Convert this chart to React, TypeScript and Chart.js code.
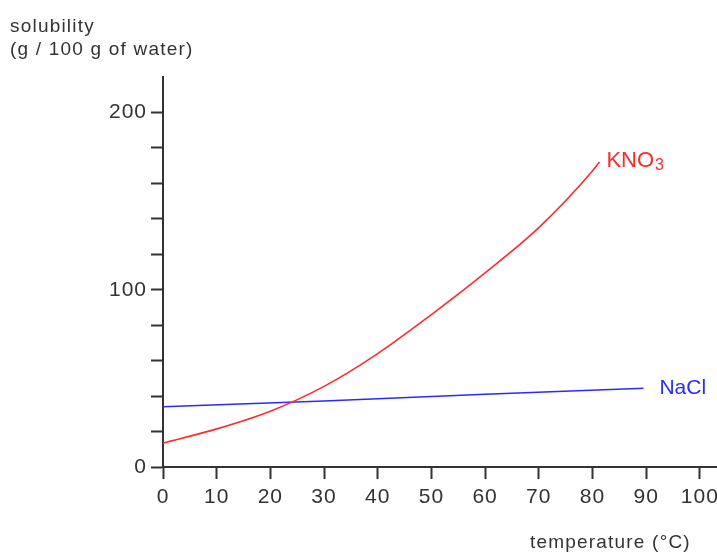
import React, { useEffect, useRef } from "react";
import { Chart, registerables } from "chart.js";

Chart.register(...registerables);

// Data
const kno3Temps = [0, 10, 20, 30, 40, 50, 60, 70, 80, 81.3];
const kno3Values = [13.5, 21.5, 31.5, 45.5, 64, 86, 109.5, 135, 167, 172];
const naclTemps = [0, 30, 60, 89.5];
const naclValues = [34, 37.2, 41, 44.4];
const xTickValues = [0, 10, 20, 30, 40, 50, 60, 70, 80, 90, 100];
const yLabelledTicks = [0, 100, 200];

const seriesNames = { kno3: "KNO", kno3Sub: "3", nacl: "NaCl" };
const axisTitles = {
  y1: "solubility",
  y2: "(g / 100 g of water)",
  x: "temperature (°C)",
};

const FONT = '"Liberation Sans", Arial, Helvetica, sans-serif';
const AXIS = "#333333";
const RED = "#ff2a2a";
const BLUE = "#2a2aff";

export default function App() {
  const ref = useRef<HTMLCanvasElement | null>(null);

  useEffect(() => {
    const canvas = ref.current;
    if (!canvas) return;

    const labelPlugin = {
      id: "labels",
      beforeDraw(chart: any) {
        chart.ctx.letterSpacing = "1px";
      },
      afterDatasetsDraw(chart: any) {
        const ctx = chart.ctx;
        const xs = chart.scales.x;
        const ys = chart.scales.y;
        ctx.save();
        ctx.letterSpacing = "0px";
        ctx.textAlign = "left";
        ctx.textBaseline = "alphabetic";
        // KNO3 label
        const kx = xs.getPixelForValue(kno3Temps[kno3Temps.length - 1]);
        const ky = ys.getPixelForValue(kno3Values[kno3Values.length - 1]);
        ctx.fillStyle = RED;
        ctx.font = `22px ${FONT}`;
        ctx.fillText(seriesNames.kno3, kx + 7, ky + 5);
        const w = ctx.measureText(seriesNames.kno3).width;
        ctx.font = `16px ${FONT}`;
        ctx.fillText(seriesNames.kno3Sub, kx + 8 + w, ky + 8);
        // NaCl label
        const nx = xs.getPixelForValue(naclTemps[naclTemps.length - 1]);
        const ny = ys.getPixelForValue(naclValues[naclValues.length - 1]);
        ctx.fillStyle = BLUE;
        ctx.font = `21px ${FONT}`;
        ctx.fillText(seriesNames.nacl, nx + 16, ny + 6);
        // axis titles
        ctx.fillStyle = AXIS;
        ctx.font = `19px ${FONT}`;
        ctx.letterSpacing = "1.2px";
        ctx.fillText(axisTitles.y1, 10, 32);
        ctx.fillText(axisTitles.y2, 10, 55);
        ctx.fillText(axisTitles.x, 530, 548);
        ctx.restore();
      },
    };

    const chart = new Chart(canvas, {
      type: "scatter",
      data: {
        datasets: [
          {
            label: "KNO3",
            data: kno3Temps.map((t, i) => ({ x: t, y: kno3Values[i] })),
            showLine: true,
            borderColor: RED,
            backgroundColor: RED,
            borderWidth: 1.6,
            pointRadius: 0,
            cubicInterpolationMode: "monotone",
          },
          {
            label: "NaCl",
            data: naclTemps.map((t, i) => ({ x: t, y: naclValues[i] })),
            showLine: true,
            borderColor: BLUE,
            backgroundColor: BLUE,
            borderWidth: 1.6,
            pointRadius: 0,
          },
        ],
      },
      options: {
        animation: false,
        responsive: false,
        layout: { padding: { top: 77, left: 0, right: 0, bottom: 0 } },
        plugins: {
          legend: { display: false },
          tooltip: { enabled: false },
        },
        scales: {
          x: {
            type: "linear",
            min: 0,
            max: 103.2,
            afterFit(scale: any) {
              scale.height = 85;
              scale.paddingLeft = 0;
              scale.paddingRight = 0;
            },
            afterBuildTicks(scale: any) {
              scale.ticks = xTickValues.map((v) => ({ value: v }));
            },
            border: { display: true, color: AXIS, width: 2 },
            grid: {
              drawOnChartArea: false,
              drawTicks: true,
              tickLength: 12,
              tickWidth: 2,
              tickColor: AXIS,
            },
            ticks: {
              padding: 6,
              color: AXIS,
              font: { family: FONT, size: 21 },
              maxRotation: 0,
              autoSkip: false,
              callback: (v: any) => String(v),
            },
          },
          y: {
            type: "linear",
            min: 0,
            max: 220,
            afterFit(scale: any) {
              scale.width = 163;
              scale.paddingTop = 0;
              scale.paddingBottom = 0;
            },
            border: { display: true, color: AXIS, width: 2 },
            grid: {
              drawOnChartArea: false,
              drawTicks: true,
              tickLength: 12,
              tickWidth: 2,
              tickColor: (c: any) =>
                c.tick && c.tick.value === 220 ? "rgba(0,0,0,0)" : AXIS,
            },
            ticks: {
              stepSize: 20,
              padding: 4,
              color: AXIS,
              font: { family: FONT, size: 21 },
              autoSkip: false,
              callback: (v: any) => (yLabelledTicks.includes(v) ? String(v) : ""),
            },
          },
        },
      },
      plugins: [labelPlugin],
    });

    return () => chart.destroy();
  }, []);

  return (
    <div style={{ position: "absolute", left: 0, top: 0, width: 717, height: 552, background: "#fff" }}>
      <canvas ref={ref} width={717} height={552} style={{ display: "block" }} />
    </div>
  );
}
